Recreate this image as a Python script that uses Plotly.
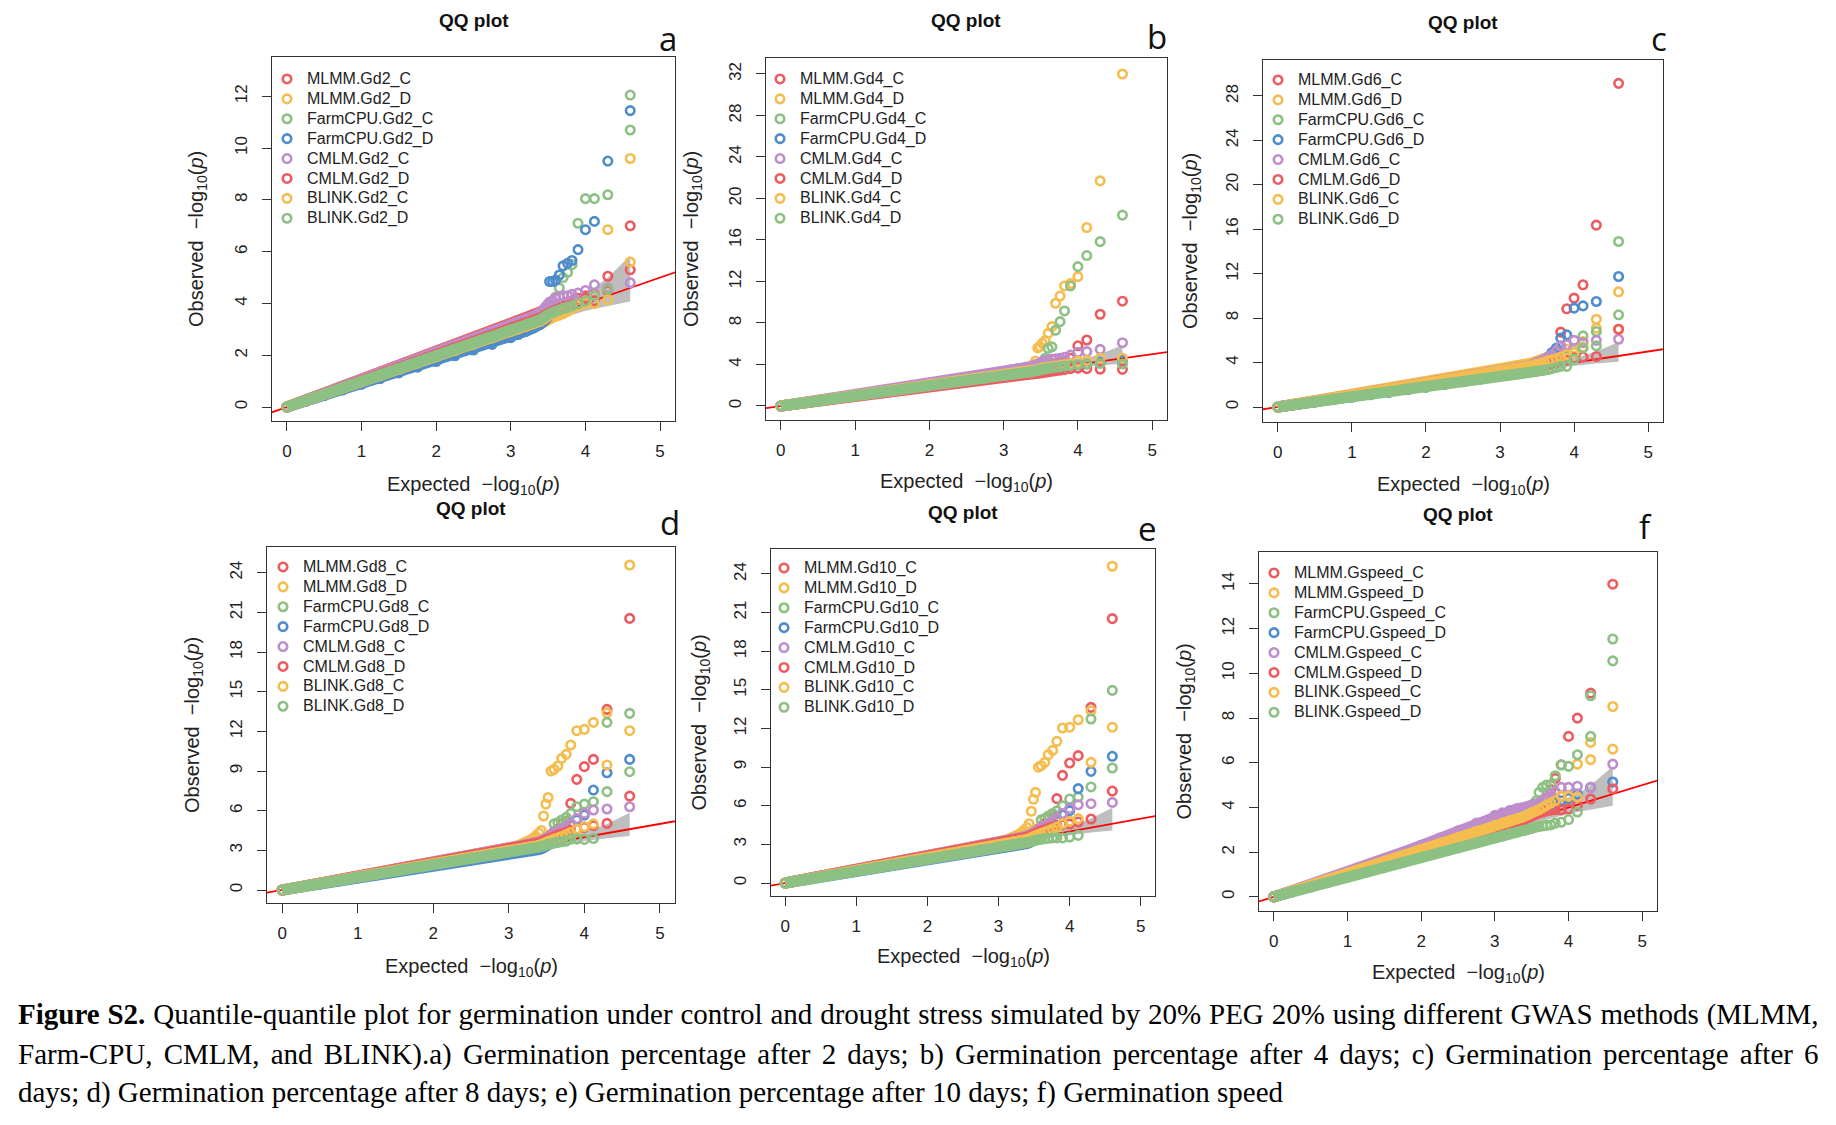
import plotly.graph_objects as go

W, H = 1836, 1125
OFF = 8  # the page body keeps its default 8px margin
FW, FH = W - OFF, H - OFF

# expected -log10(p) positions shared by every series (same number of markers)
EXPECTED = [0.0, 0.25, 0.5, 0.75, 1.0, 1.25, 1.5, 1.75, 2.0, 2.25, 2.5, 2.75,
            3.0, 3.1, 3.2, 3.3, 3.4,
            3.43, 3.46, 3.49, 3.52, 3.56, 3.6, 3.65, 3.7, 3.76, 3.82, 3.9, 4.0, 4.12, 4.3, 4.6]
BAND_N = 17  # the dense part that shows up as a solid band

REF_LINE = [-1.0, 6.0]
CI_X = [2.5, 3.0, 3.5, 3.8, 4.0, 4.12, 4.3, 4.6]
CI_HI = [2.7, 3.27, 3.85, 4.2, 4.45, 4.62, 5.0, 5.85]
CI_LO = [2.33, 2.8, 3.27, 3.55, 3.72, 3.8, 3.92, 4.08]

SERIES = ["MLMM.{}_C", "MLMM.{}_D", "FarmCPU.{}_C", "FarmCPU.{}_D",
          "CMLM.{}_C", "CMLM.{}_D", "BLINK.{}_C", "BLINK.{}_D"]
COLORS = ["#EE5A5E", "#F5BD4F", "#8DC083", "#4E8CCB",
          "#BE8DCB", "#EE5A5E", "#F5BD4F", "#8DC083"]
TRAITS = ["Gd2", "Gd4", "Gd6", "Gd8", "Gd10", "Gspeed"]
LETTERS = ["a", "b", "c", "d", "e", "f"]

X_TICKS = [0, 1, 2, 3, 4, 5]
Y_TICKS = [
    [0, 2, 4, 6, 8, 10, 12],
    [0, 4, 8, 12, 16, 20, 24, 28, 32],
    [0, 4, 8, 12, 16, 20, 24, 28],
    [0, 3, 6, 9, 12, 15, 18, 21, 24],
    [0, 3, 6, 9, 12, 15, 18, 21, 24],
    [0, 2, 4, 6, 8, 10, 12, 14],
]

OBS_GD2 = [
    [0.0, 0.27, 0.53, 0.8, 1.06, 1.32, 1.58, 1.85, 2.1, 2.37, 2.63, 2.9, 3.18, 3.3, 3.42, 3.55, 3.68,
     3.72, 3.76, 3.8, 3.85, 3.88, 3.9, 3.95, 4.0, 4.05, 4.1, 4.2, 4.3, 4.35, 5.05, 7.0],
    [0.0, 0.23, 0.46, 0.69, 0.93, 1.16, 1.39, 1.62, 1.86, 2.09, 2.32, 2.56, 2.8, 2.9, 3.0, 3.1, 3.2,
     3.25, 3.3, 3.35, 3.4, 3.45, 3.5, 3.55, 3.6, 3.7, 3.8, 3.9, 4.0, 4.3, 6.85, 9.6],
    [0.0, 0.24, 0.47, 0.71, 0.95, 1.18, 1.42, 1.66, 1.9, 2.13, 2.37, 2.6, 2.82, 2.95, 3.1, 3.25, 3.4,
     3.5, 3.6, 3.7, 3.8, 3.95, 4.25, 4.6, 5.0, 5.2, 5.5, 7.1, 8.05, 8.05, 8.2, 12.05],
    [0.0, 0.22, 0.44, 0.66, 0.88, 1.1, 1.32, 1.54, 1.76, 1.98, 2.2, 2.42, 2.68, 2.8, 2.92, 3.05, 3.2,
     3.28, 3.35, 3.45, 4.85, 4.85, 4.9, 5.1, 5.45, 5.55, 5.66, 6.08, 6.85, 7.17, 9.5, 11.45],
    [0.0, 0.26, 0.52, 0.77, 1.03, 1.29, 1.55, 1.8, 2.06, 2.32, 2.58, 2.84, 3.1, 3.22, 3.35, 3.5, 3.65,
     3.75, 3.85, 3.95, 4.05, 4.1, 4.2, 4.25, 4.3, 4.3, 4.35, 4.4, 4.5, 4.72, 4.6, 4.8],
    [0.0, 0.25, 0.5, 0.75, 1.0, 1.25, 1.5, 1.75, 2.0, 2.25, 2.5, 2.75, 3.0, 3.1, 3.2, 3.3, 3.45,
     3.5, 3.55, 3.6, 3.65, 3.7, 3.75, 3.8, 3.85, 3.9, 3.95, 4.0, 4.2, 4.1, 4.5, 5.3],
    [0.0, 0.24, 0.49, 0.73, 0.97, 1.21, 1.46, 1.7, 1.94, 2.18, 2.43, 2.67, 2.92, 3.02, 3.12, 3.22, 3.32,
     3.38, 3.44, 3.5, 3.55, 3.6, 3.65, 3.7, 3.8, 3.85, 3.9, 4.0, 4.1, 4.0, 4.15, 5.6],
    [0.0, 0.25, 0.5, 0.74, 0.99, 1.24, 1.49, 1.73, 1.98, 2.23, 2.48, 2.72, 2.97, 3.07, 3.17, 3.27, 3.37,
     3.45, 3.5, 3.55, 3.6, 3.65, 3.7, 3.75, 3.8, 3.85, 3.9, 4.0, 4.1, 4.3, 4.55, 10.7],
]

OBS_GD4 = [
    [0.0, 0.25, 0.5, 0.75, 1.0, 1.25, 1.5, 1.75, 2.0, 2.25, 2.5, 2.76, 3.02, 3.12, 3.22, 3.32, 3.42,
     3.5, 3.55, 3.6, 3.7, 3.8, 3.9, 4.0, 4.1, 4.2, 4.3, 4.6, 5.8, 6.36, 8.84, 10.1],
    [0.0, 0.26, 0.52, 0.78, 1.04, 1.3, 1.56, 1.82, 2.08, 2.34, 2.58, 2.82, 3.08, 3.2, 3.35, 3.5, 4.0,
     4.34, 5.6, 5.72, 6.04, 6.3, 7.0, 7.65, 9.9, 10.6, 11.57, 11.8, 12.47, 17.2, 21.7, 32.0],
    [0.0, 0.25, 0.5, 0.74, 0.99, 1.24, 1.48, 1.73, 1.97, 2.22, 2.46, 2.7, 2.95, 3.05, 3.15, 3.25, 3.35,
     3.45, 3.55, 3.7, 4.0, 4.6, 5.56, 5.7, 7.3, 8.13, 9.16, 11.57, 13.43, 14.5, 15.84, 18.4],
    [0.0, 0.25, 0.5, 0.75, 0.99, 1.24, 1.49, 1.74, 1.99, 2.23, 2.48, 2.73, 2.98, 3.08, 3.18, 3.28, 3.38,
     3.42, 3.46, 3.5, 3.54, 3.58, 3.62, 3.66, 3.7, 3.75, 3.8, 3.85, 3.95, 4.05, 4.2, 4.4],
    [0.0, 0.26, 0.52, 0.78, 1.04, 1.3, 1.57, 1.84, 2.12, 2.4, 2.7, 3.0, 3.35, 3.48, 3.6, 3.72, 3.85,
     3.95, 4.05, 4.15, 4.25, 4.35, 4.45, 4.5, 4.55, 4.6, 4.7, 4.9, 5.17, 5.24, 5.46, 6.1],
    [0.0, 0.24, 0.48, 0.72, 0.96, 1.2, 1.44, 1.67, 1.91, 2.14, 2.37, 2.6, 2.82, 2.9, 2.98, 3.05, 3.1,
     3.12, 3.15, 3.18, 3.2, 3.25, 3.3, 3.35, 3.4, 3.45, 3.5, 3.6, 3.65, 3.6, 3.55, 3.53],
    [0.0, 0.25, 0.51, 0.76, 1.02, 1.27, 1.53, 1.79, 2.05, 2.3, 2.55, 2.8, 3.05, 3.15, 3.25, 3.35, 3.45,
     3.5, 3.55, 3.6, 3.65, 3.7, 3.75, 3.8, 3.85, 3.9, 4.0, 4.1, 4.3, 4.4, 4.6, 4.6],
    [0.0, 0.25, 0.49, 0.74, 0.98, 1.23, 1.47, 1.72, 1.96, 2.2, 2.45, 2.69, 2.93, 3.03, 3.13, 3.23, 3.33,
     3.38, 3.43, 3.48, 3.53, 3.58, 3.63, 3.68, 3.73, 3.78, 3.85, 3.9, 4.0, 4.05, 4.1, 4.05],
]

OBS_GD6 = [
    [0.0, 0.25, 0.5, 0.76, 1.01, 1.26, 1.51, 1.77, 2.02, 2.28, 2.54, 2.8, 3.06, 3.17, 3.28, 3.39, 3.5,
     3.56, 3.62, 3.7, 3.8, 3.95, 4.1, 4.3, 4.6, 5.0, 6.74, 8.84, 9.8, 11.0, 16.37, 29.14],
    [0.0, 0.28, 0.56, 0.84, 1.12, 1.4, 1.68, 1.97, 2.26, 2.55, 2.85, 3.15, 3.45, 3.56, 3.68, 3.8, 3.92,
     3.98, 4.05, 4.12, 4.2, 4.3, 4.4, 4.5, 4.6, 4.7, 4.9, 5.2, 5.3, 5.9, 7.1, 7.0],
    [0.0, 0.24, 0.48, 0.72, 0.96, 1.2, 1.44, 1.68, 1.92, 2.16, 2.4, 2.64, 2.9, 3.0, 3.1, 3.2, 3.3,
     3.35, 3.4, 3.45, 3.5, 3.6, 3.7, 3.8, 3.9, 4.0, 4.3, 4.6, 5.0, 6.4, 6.8, 14.9],
    [0.0, 0.22, 0.44, 0.66, 0.88, 1.1, 1.32, 1.55, 1.78, 2.02, 2.27, 2.53, 2.8, 2.92, 3.05, 3.2, 3.4,
     3.5, 3.6, 3.7, 3.85, 4.0, 4.2, 4.5, 4.9, 5.3, 6.2, 6.5, 8.9, 9.1, 9.5, 11.75],
    [0.0, 0.26, 0.52, 0.78, 1.04, 1.3, 1.56, 1.82, 2.09, 2.36, 2.64, 2.93, 3.22, 3.33, 3.45, 3.58, 3.72,
     3.8, 3.88, 3.95, 4.05, 4.15, 4.3, 4.5, 4.7, 5.0, 5.5, 5.6, 6.0, 5.8, 6.0, 6.1],
    [0.0, 0.25, 0.5, 0.75, 1.0, 1.25, 1.5, 1.75, 2.0, 2.25, 2.5, 2.75, 3.0, 3.1, 3.2, 3.3, 3.4,
     3.45, 3.5, 3.55, 3.6, 3.65, 3.7, 3.8, 3.9, 4.0, 4.1, 4.2, 4.4, 4.5, 4.55, 7.0],
    [0.0, 0.27, 0.54, 0.82, 1.09, 1.36, 1.63, 1.9, 2.18, 2.45, 2.72, 3.0, 3.28, 3.38, 3.48, 3.58, 3.68,
     3.72, 3.77, 3.82, 3.88, 3.95, 4.05, 4.15, 4.25, 4.35, 4.5, 4.7, 4.9, 5.4, 7.9, 10.37],
    [0.0, 0.23, 0.46, 0.69, 0.92, 1.15, 1.38, 1.61, 1.84, 2.07, 2.3, 2.53, 2.76, 2.85, 2.94, 3.03, 3.12,
     3.15, 3.18, 3.21, 3.24, 3.28, 3.32, 3.38, 3.45, 3.55, 3.66, 3.66, 4.3, 5.3, 5.5, 8.3],
]

OBS_GD8 = [
    [0.0, 0.26, 0.52, 0.79, 1.05, 1.31, 1.58, 1.84, 2.1, 2.36, 2.62, 2.89, 3.15, 3.26, 3.38, 3.5, 3.62,
     3.7, 3.8, 3.9, 4.0, 4.2, 4.4, 4.6, 5.0, 5.2, 6.55, 8.37, 9.33, 9.88, 13.66, 20.54],
    [0.0, 0.25, 0.5, 0.75, 1.0, 1.25, 1.5, 1.75, 2.0, 2.26, 2.52, 2.8, 3.1, 3.3, 3.55, 3.8, 4.3,
     4.5, 5.6, 6.5, 7.0, 9.0, 9.13, 9.38, 9.96, 10.26, 10.97, 12.05, 12.15, 12.68, 13.4, 24.58],
    [0.0, 0.25, 0.5, 0.74, 0.99, 1.24, 1.49, 1.74, 1.99, 2.24, 2.5, 2.76, 3.03, 3.14, 3.26, 3.38, 3.5,
     3.58, 3.66, 3.75, 3.85, 4.0, 5.0, 5.1, 5.3, 5.5, 5.8, 6.3, 6.5, 6.68, 12.68, 13.36],
    [0.0, 0.23, 0.46, 0.69, 0.92, 1.15, 1.38, 1.61, 1.84, 2.07, 2.3, 2.52, 2.74, 2.82, 2.9, 2.98, 3.06,
     3.12, 3.2, 3.3, 3.4, 3.55, 3.7, 3.9, 4.1, 4.4, 5.0, 5.3, 5.67, 7.56, 8.87, 9.88],
    [0.0, 0.25, 0.51, 0.76, 1.02, 1.27, 1.53, 1.79, 2.05, 2.32, 2.6, 2.88, 3.17, 3.28, 3.4, 3.52, 3.65,
     3.72, 3.8, 3.9, 4.0, 4.15, 4.3, 4.45, 4.6, 4.8, 5.0, 5.4, 5.8, 6.05, 6.13, 6.3],
    [0.0, 0.25, 0.5, 0.76, 1.01, 1.27, 1.53, 1.79, 2.05, 2.31, 2.57, 2.83, 3.09, 3.2, 3.32, 3.44, 3.56,
     3.62, 3.7, 3.78, 3.86, 3.95, 4.05, 4.15, 4.25, 4.35, 4.5, 4.6, 4.74, 4.87, 5.04, 7.1],
    [0.0, 0.25, 0.49, 0.74, 0.99, 1.24, 1.48, 1.73, 1.98, 2.23, 2.48, 2.73, 2.98, 3.08, 3.18, 3.28, 3.38,
     3.45, 3.52, 3.6, 3.68, 3.76, 3.85, 3.95, 4.05, 4.2, 4.35, 4.6, 4.8, 5.0, 9.45, 12.05],
    [0.0, 0.24, 0.48, 0.72, 0.96, 1.2, 1.44, 1.68, 1.92, 2.16, 2.4, 2.64, 2.88, 2.98, 3.07, 3.16, 3.25,
     3.3, 3.35, 3.4, 3.45, 3.5, 3.55, 3.6, 3.65, 3.7, 3.85, 3.85, 3.83, 3.9, 7.44, 8.95],
]

OBS_GD10 = [
    [0.0, 0.26, 0.52, 0.79, 1.05, 1.31, 1.58, 1.84, 2.1, 2.36, 2.62, 2.89, 3.15, 3.26, 3.38, 3.5, 3.62,
     3.7, 3.8, 3.9, 4.0, 4.2, 4.4, 4.6, 5.0, 5.2, 6.55, 8.36, 9.32, 9.89, 13.64, 20.53],
    [0.0, 0.25, 0.5, 0.75, 1.0, 1.25, 1.5, 1.75, 2.0, 2.26, 2.52, 2.8, 3.1, 3.3, 3.55, 3.8, 4.3,
     4.6, 5.57, 6.5, 7.04, 9.0, 9.11, 9.37, 9.97, 10.3, 11.0, 12.04, 12.1, 12.68, 13.38, 24.6],
    [0.0, 0.25, 0.5, 0.74, 0.99, 1.24, 1.49, 1.74, 1.99, 2.24, 2.5, 2.76, 3.03, 3.14, 3.26, 3.38, 3.5,
     3.6, 3.7, 3.8, 3.9, 4.1, 4.9, 5.0, 5.2, 5.4, 5.6, 6.0, 6.52, 6.68, 12.74, 14.96],
    [0.0, 0.23, 0.46, 0.69, 0.92, 1.15, 1.38, 1.61, 1.84, 2.07, 2.3, 2.52, 2.74, 2.82, 2.9, 2.98, 3.06,
     3.12, 3.2, 3.3, 3.4, 3.55, 3.7, 3.9, 4.1, 4.4, 5.0, 5.3, 5.62, 7.33, 8.67, 9.84],
    [0.0, 0.25, 0.51, 0.76, 1.02, 1.27, 1.53, 1.79, 2.05, 2.32, 2.6, 2.88, 3.17, 3.28, 3.4, 3.52, 3.65,
     3.72, 3.8, 3.9, 4.0, 4.15, 4.3, 4.45, 4.6, 4.8, 5.0, 5.4, 5.8, 6.08, 6.16, 6.26],
    [0.0, 0.25, 0.5, 0.76, 1.01, 1.27, 1.53, 1.79, 2.05, 2.31, 2.57, 2.83, 3.09, 3.2, 3.32, 3.44, 3.56,
     3.62, 3.7, 3.78, 3.86, 3.95, 4.05, 4.15, 4.25, 4.35, 4.45, 4.53, 4.58, 4.74, 4.97, 7.14],
    [0.0, 0.25, 0.49, 0.74, 0.99, 1.24, 1.48, 1.73, 1.98, 2.23, 2.48, 2.73, 2.98, 3.08, 3.18, 3.28, 3.38,
     3.45, 3.52, 3.6, 3.68, 3.76, 3.85, 3.95, 4.05, 4.2, 4.35, 4.6, 4.8, 5.0, 9.37, 12.1],
    [0.0, 0.24, 0.47, 0.71, 0.94, 1.18, 1.41, 1.65, 1.88, 2.12, 2.35, 2.58, 2.82, 2.9, 2.98, 3.06, 3.14,
     3.18, 3.22, 3.27, 3.32, 3.36, 3.4, 3.44, 3.47, 3.5, 3.5, 3.5, 3.57, 3.7, 7.46, 8.93],
]

OBS_GSPEED = [
    [0.0, 0.27, 0.53, 0.8, 1.06, 1.33, 1.59, 1.85, 2.11, 2.37, 2.63, 2.88, 3.14, 3.24, 3.34, 3.44, 3.54,
     3.6, 3.68, 3.75, 3.85, 3.95, 4.05, 4.2, 4.4, 4.8, 5.3, 5.91, 7.18, 8.0, 9.12, 13.99],
    [0.0, 0.27, 0.54, 0.81, 1.08, 1.35, 1.62, 1.89, 2.17, 2.45, 2.74, 3.03, 3.33, 3.43, 3.53, 3.63, 3.73,
     3.78, 3.83, 3.88, 3.93, 3.98, 4.05, 4.1, 4.2, 4.3, 4.4, 4.5, 4.5, 5.94, 6.91, 8.52],
    [0.0, 0.25, 0.51, 0.76, 1.01, 1.26, 1.52, 1.77, 2.02, 2.28, 2.54, 2.8, 3.08, 3.2, 3.32, 3.45, 3.6,
     3.7, 3.85, 4.0, 4.15, 4.3, 4.68, 4.9, 5.0, 5.02, 5.42, 5.9, 5.84, 6.36, 9.0, 11.54],
    [0.0, 0.27, 0.54, 0.82, 1.09, 1.37, 1.65, 1.93, 2.21, 2.48, 2.74, 3.0, 3.25, 3.35, 3.45, 3.55, 3.65,
     3.7, 3.75, 3.8, 3.85, 3.9, 3.95, 4.0, 4.05, 4.1, 4.2, 4.3, 4.4, 4.6, 4.9, 5.14],
    [0.0, 0.27, 0.55, 0.83, 1.11, 1.4, 1.7, 2.0, 2.31, 2.63, 2.96, 3.3, 3.65, 3.76, 3.86, 3.94, 4.0,
     4.03, 4.06, 4.09, 4.12, 4.15, 4.2, 4.3, 4.45, 4.6, 4.7, 4.9, 4.9, 4.95, 4.9, 5.94],
    [0.0, 0.25, 0.5, 0.76, 1.01, 1.27, 1.52, 1.78, 2.04, 2.3, 2.56, 2.82, 3.08, 3.18, 3.28, 3.38, 3.48,
     3.52, 3.56, 3.6, 3.65, 3.7, 3.75, 3.8, 3.85, 3.88, 3.9, 3.9, 3.93, 4.1, 4.38, 4.84],
    [0.0, 0.26, 0.53, 0.79, 1.06, 1.32, 1.59, 1.85, 2.12, 2.39, 2.66, 2.93, 3.2, 3.3, 3.4, 3.5, 3.6,
     3.65, 3.7, 3.75, 3.8, 3.85, 3.9, 4.0, 4.1, 4.2, 4.3, 4.5, 4.5, 4.47, 6.14, 6.61],
    [0.0, 0.22, 0.44, 0.66, 0.88, 1.1, 1.32, 1.54, 1.76, 1.98, 2.2, 2.42, 2.64, 2.73, 2.82, 2.9, 2.98,
     3.0, 3.03, 3.06, 3.09, 3.12, 3.15, 3.18, 3.2, 3.22, 3.3, 3.34, 3.46, 3.8, 7.18, 10.56],
]

PANEL_OBS = [OBS_GD2, OBS_GD4, OBS_GD6, OBS_GD8, OBS_GD10, OBS_GSPEED]

CAPTION = [
    '<span style="word-spacing:0.6px"><b>Figure S2.</b> Quantile-quantile plot for germination under '
    'control and drought stress simulated by 20% PEG 20% using different GWAS methods (MLMM,</span>',
    '<span style="word-spacing:3.9px">Farm-CPU, CMLM, and BLINK).a) Germination percentage after 2 days; '
    'b) Germination percentage after 4 days; c) Germination percentage after 6</span>',
    "days; d) Germination percentage after 8 days; e) Germination percentage after 10 days; "
    "f) Germination speed",
]

# ---- layout in screen pixels (left, right, top, bottom of each plot box) ----
BOXES = [(272, 675, 57, 421), (766, 1167, 58, 420), (1263, 1663, 60, 422),
         (267, 675, 547, 903), (771, 1155, 549, 896), (1259, 1657, 552, 911)]
Y_RANGES = [(-0.54, 13.52), (-1.35, 33.54), (-1.35, 31.24),
            (-0.98, 25.94), (-1.01, 25.94), (-0.63, 15.43)]
TITLE_Y = [20, 20, 22, 508, 512, 514]
LETTER_POS = [(668, 38), (1157, 37), (1659, 39), (670, 523), (1147, 528), (1645, 527)]
YTITLE_X = [198, 693, 1192, 193, 700, 1185]
XTITLE_Y = [485, 483, 485, 967, 958, 973]
LEGEND_POS = [(287, 78), (780, 78), (1278, 79), (283, 566), (784, 567), (1274, 572)]
CAPTION_Y = [1014, 1054, 1092]


def px(x):
    return (x - OFF) / FW


def py(y):
    return 1 - (y - OFF) / FH


SANS = "Liberation Sans, Arial, sans-serif"
AXIS_COL = "#333333"

fig = go.Figure()
annotations = []
layout = {}

for i in range(6):
    n = "" if i == 0 else str(i + 1)
    xa, ya = "x" + n, "y" + n
    leg = "legend" + n
    left, right, top, bottom = BOXES[i]

    # confidence band, reference line, then the series
    fig.add_trace(go.Scatter(
        x=CI_X + CI_X[::-1], y=CI_HI + CI_LO[::-1], fill="toself",
        fillcolor="#BEBEBE", line=dict(width=0), mode="lines",
        showlegend=False, hoverinfo="skip", xaxis=xa, yaxis=ya))
    fig.add_trace(go.Scatter(
        x=REF_LINE, y=REF_LINE, mode="lines", line=dict(color="#FF0000", width=1.8),
        showlegend=False, hoverinfo="skip", xaxis=xa, yaxis=ya))

    for k, obs in enumerate(PANEL_OBS[i]):
        col = COLORS[k]
        label = SERIES[k].format(TRAITS[i])
        fig.add_trace(go.Scatter(
            x=EXPECTED[:BAND_N], y=obs[:BAND_N], mode="lines",
            line=dict(color=col, width=11), showlegend=False,
            hoverinfo="skip", xaxis=xa, yaxis=ya))
        fig.add_trace(go.Scatter(
            x=EXPECTED, y=obs, mode="markers",
            name='<span style="font-size:16px">' + label + '</span>',
            marker=dict(symbol="circle-open", size=8.5, color=col,
                        line=dict(width=2.6, color=col)),
            legend=leg, xaxis=xa, yaxis=ya))

    layout["xaxis" + n] = dict(
        domain=[px(left), px(right)], anchor=ya, range=[-0.2, 5.2],
        tickvals=X_TICKS, showline=True, mirror=True, linecolor=AXIS_COL, linewidth=1.3,
        ticks="outside", ticklen=9, tickwidth=1.3, tickcolor=AXIS_COL,
        showgrid=False, zeroline=False, ticklabelstandoff=5,
        tickfont=dict(family=SANS, size=17, color="#222222"))
    layout["yaxis" + n] = dict(
        domain=[py(bottom), py(top)], anchor=xa, range=list(Y_RANGES[i]),
        tickvals=Y_TICKS[i], showline=True, mirror=True, linecolor=AXIS_COL, linewidth=1.3,
        ticks="outside", ticklen=9, tickwidth=1.3, tickcolor=AXIS_COL,
        showgrid=False, zeroline=False, tickangle=-90, ticklabelstandoff=8,
        tickfont=dict(family=SANS, size=17, color="#222222"))

    lx, ly = LEGEND_POS[i]
    layout[leg] = dict(
        x=px(lx - 20), y=py(ly - 14), xanchor="left", yanchor="top",
        bgcolor="rgba(0,0,0,0)", borderwidth=0, traceorder="normal",
        font=dict(family=SANS, size=13, color="#222222"), itemwidth=30)

    cx = (left + right) / 2
    annotations.append(dict(
        text="<b>QQ plot</b>", x=px(cx), y=py(TITLE_Y[i]), xref="paper", yref="paper",
        showarrow=False, xanchor="center", yanchor="middle",
        font=dict(family=SANS, size=19, color="#111111")))
    lx2, ly2 = LETTER_POS[i]
    annotations.append(dict(
        text=LETTERS[i], x=px(lx2), y=py(ly2), xref="paper", yref="paper",
        showarrow=False, xanchor="center", yanchor="middle",
        font=dict(family="Open Sans, sans-serif", size=33, color="#111111")))
    annotations.append(dict(
        text="Expected\u00a0\u00a0\u2212log<sub>10</sub>(<i>p</i>)",
        x=px(cx), y=py(XTITLE_Y[i]), xref="paper", yref="paper",
        showarrow=False, xanchor="center", yanchor="middle",
        font=dict(family=SANS, size=20, color="#222222")))
    annotations.append(dict(
        text="Observed\u00a0\u00a0\u2212log<sub>10</sub>(<i>p</i>)",
        x=px(YTITLE_X[i]), y=py((top + bottom) / 2), xref="paper", yref="paper",
        showarrow=False, xanchor="center", yanchor="middle", textangle=-90,
        font=dict(family=SANS, size=20, color="#222222")))

for j, line in enumerate(CAPTION):
    annotations.append(dict(
        text=line, x=px(16), y=py(CAPTION_Y[j]), xref="paper", yref="paper",
        showarrow=False, xanchor="left", yanchor="middle", align="left",
        font=dict(family="Liberation Serif, Times New Roman, serif", size=29, color="#000000")))

fig.update_layout(
    width=FW, height=FH, margin=dict(l=0, r=0, t=0, b=0),
    plot_bgcolor="white", paper_bgcolor="white",
    annotations=annotations, showlegend=True, **layout)

fig.write_html("out.html")
